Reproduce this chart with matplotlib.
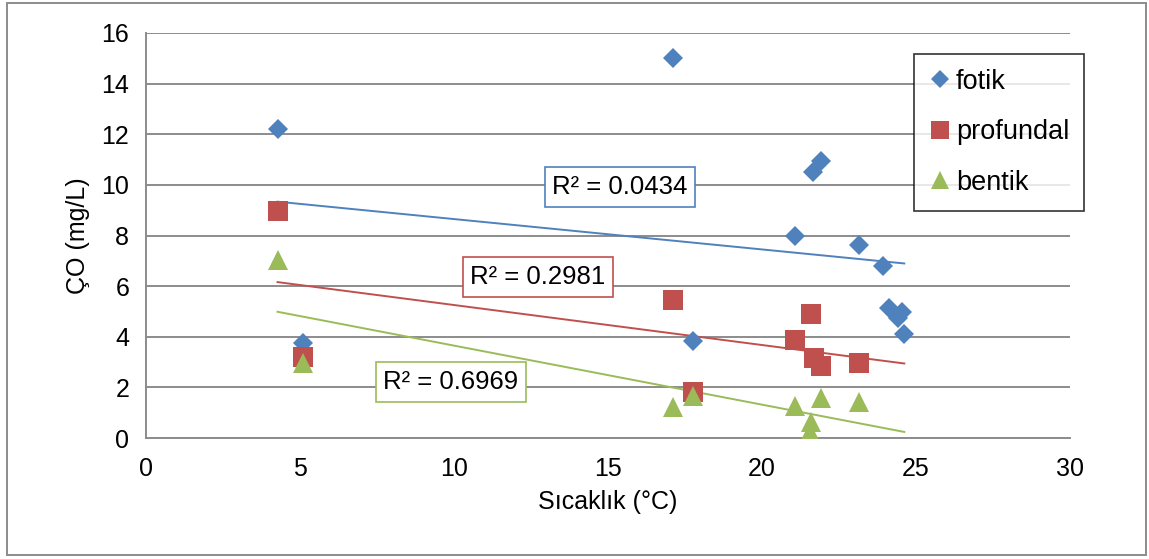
import matplotlib
matplotlib.use("Agg")
import matplotlib.pyplot as plt
import numpy as np
from matplotlib.patches import Rectangle

plt.rcParams['font.family'] = ['Liberation Sans', 'DejaVu Sans']

# Data
fotik_x = [4.27, 5.09, 17.1, 17.77, 21.06, 21.65, 21.9, 23.15, 23.93, 24.13, 24.4, 24.55, 24.62]
fotik_y = [12.2, 3.75, 15.0, 3.83, 8.0, 10.5, 10.95, 7.62, 6.8, 5.13, 4.75, 4.98, 4.1]
prof_x = [4.27, 5.09, 17.1, 17.77, 21.06, 21.6, 21.7, 21.93, 23.16]
prof_y = [8.95, 3.2, 5.47, 1.83, 3.89, 4.9, 3.16, 2.86, 2.96]
bent_x = [4.27, 5.09, 17.1, 17.77, 21.06, 21.6, 21.55, 21.93, 23.16]
bent_y = [7.05, 2.97, 1.22, 1.66, 1.28, 0.62, 0.22, 1.6, 1.41]
series_names = ["fotik", "profundal", "bentik"]
r2_labels = ["R² = 0.0434", "R² = 0.2981", "R² = 0.6969"]
x_ticks = [0, 5, 10, 15, 20, 25, 30]
y_ticks = [0, 2, 4, 6, 8, 10, 12, 14, 16]

colors = ["#4F81BD", "#C0504D", "#9BBB59"]
markers = ["D", "s", "^"]
msizes = [10.5, 14.5, 14]

W, H = 1149, 559
fig = plt.figure(figsize=(W/100, H/100), dpi=100)
ax = fig.add_axes([146/W, 1-438/H, (1070-146)/W, (438-33)/H])

xs_all = [fotik_x, prof_x, bent_x]
ys_all = [fotik_y, prof_y, bent_y]
xmin = min(min(v) for v in xs_all)
xmax = max(max(v) for v in xs_all)

handles = []
for xs, ys, c, m, ms, name in zip(xs_all, ys_all, colors, markers, msizes, series_names):
    h, = ax.plot(xs, ys, linestyle='none', marker=m, markersize=ms, color=c,
                 markeredgewidth=0, label=name, zorder=3)
    handles.append(h)
    k, b = np.polyfit(xs, ys, 1)
    xx = np.array([xmin, xmax])
    ax.plot(xx, k*xx + b, color=c, linewidth=1.4, zorder=2)

ax.set_xlim(0, 30)
ax.set_ylim(0, 16)
ax.set_xticks(x_ticks)
ax.set_yticks(y_ticks)
ax.tick_params(length=0, labelsize=18, pad=12)
ax.tick_params(axis='x', pad=14)
ax.grid(axis='y', color='#8C8C8C', linewidth=1.4)
ax.set_axisbelow(True)
for s in ['top', 'right']:
    ax.spines[s].set_visible(False)
for s in ['left', 'bottom']:
    ax.spines[s].set_color('#8C8C8C')
    ax.spines[s].set_linewidth(1.4)

ax.set_xlabel("Sıcaklık (°C)", fontsize=18, labelpad=6)
ax.set_ylabel("ÇO (mg/L)", fontsize=18, labelpad=8)

# R² labels
label_pos = [(620, 187), (538, 277), (451, 382)]
for (px, py), txt, c in zip(label_pos, r2_labels, colors):
    fig.text(px/W, 1-py/H, txt, fontsize=18.5, ha='center', va='center',
             bbox=dict(boxstyle='square,pad=0.3', facecolor='white', edgecolor=c, linewidth=1.2),
             zorder=5)

# Legend
leg = fig.legend(handles=handles, loc='upper left', bbox_to_anchor=(914/W, 1-54/H),
                 fontsize=19.5, frameon=True, fancybox=False, handlelength=0.85,
                 handletextpad=0.15, labelspacing=0.9, borderpad=0.55,
                 markerscale=0.9, borderaxespad=0)
leg.get_frame().set_edgecolor('black')
leg.get_frame().set_linewidth(1.2)

# Outer border
fig.patches.append(Rectangle((7/W, 1-555/H), (1146-7)/W, (555-3)/H, transform=fig.transFigure,
                             fill=False, edgecolor='#8C8C8C', linewidth=1.4))

fig.savefig("out.png", dpi=100)
